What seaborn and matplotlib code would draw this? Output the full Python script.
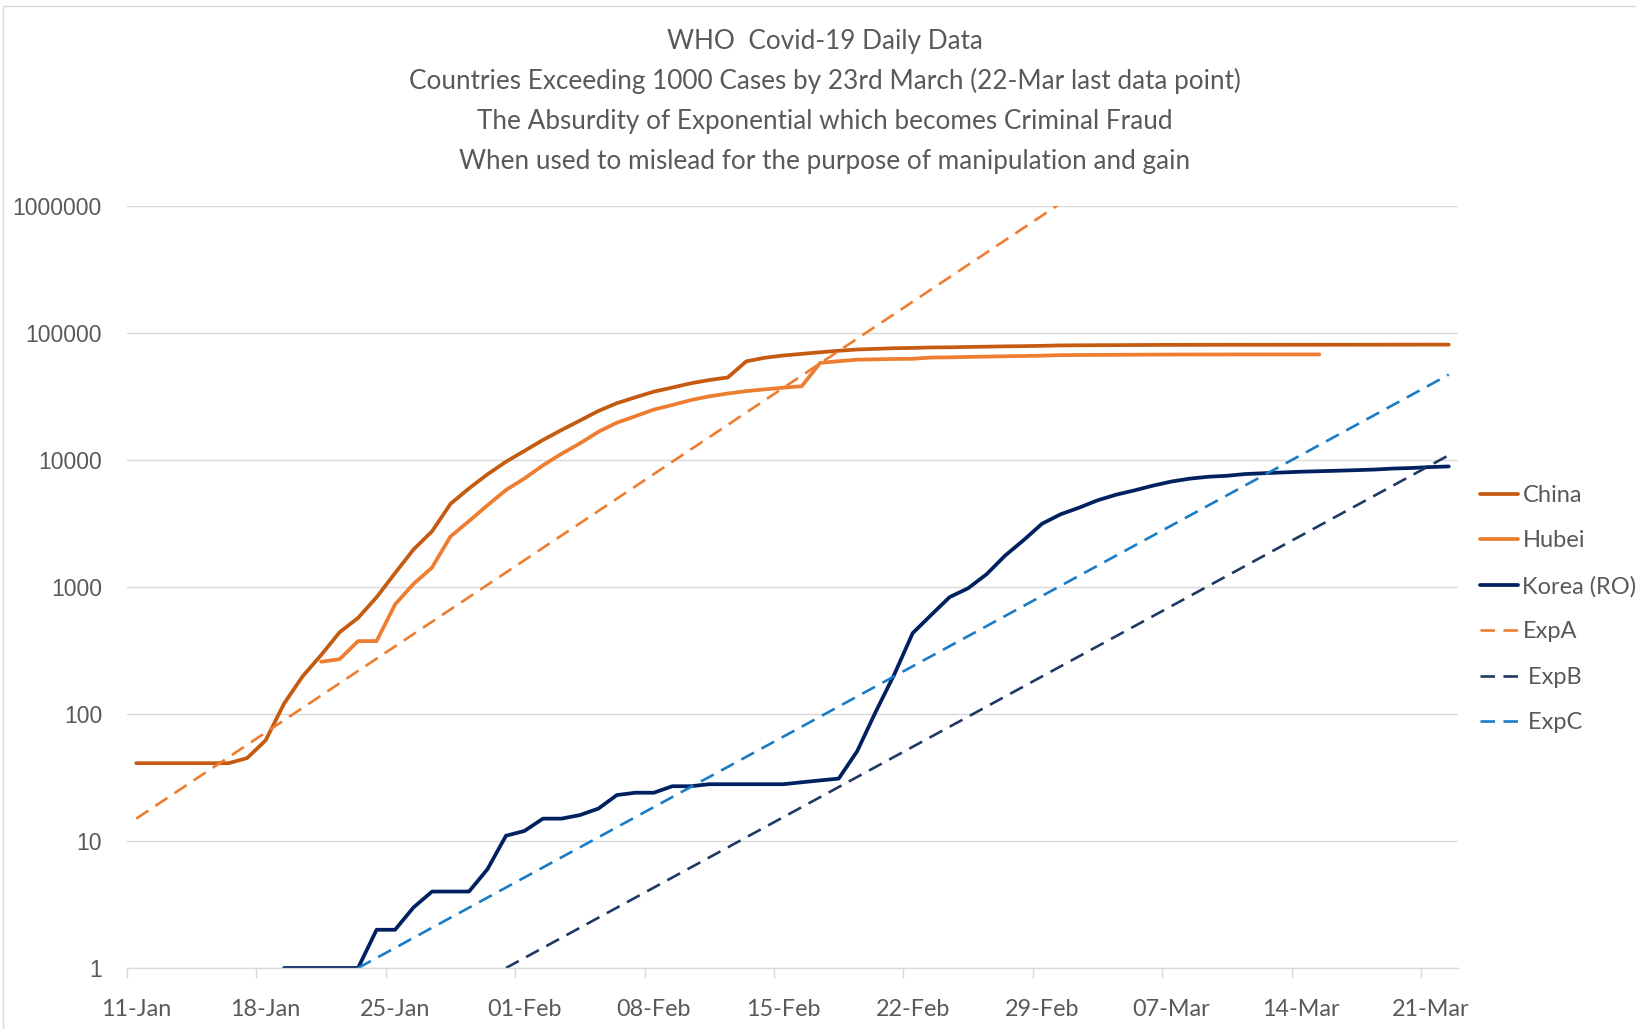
import pandas as pd
import matplotlib
matplotlib.use('Agg')
import matplotlib.pyplot as plt
from matplotlib.lines import Line2D
import seaborn as sns

# daily data, 11-Jan .. 22-Mar
china_start = '2020-01-11'
china = [41, 41, 41, 41, 41, 41, 45, 62, 121, 198, 291, 440, 571, 830, 1287, 1975, 2744, 4515, 5974, 7711, 9692,
         11791, 14380, 17205, 20438, 24324, 28018, 31161, 34546, 37198, 40171, 42638, 44653, 59804, 63851, 66492,
         68500, 70548, 72436, 74185, 75002, 75891, 76288, 76936, 77150, 77658, 78064, 78497, 78824, 79251,
         79824, 80026, 80151, 80270, 80409, 80552, 80651, 80695, 80735, 80754, 80778, 80793, 80813, 80824, 80844,
         80860, 80881, 80894, 80928, 80967, 81008, 81054]

hubei_start = '2020-01-21'
hubei = [258, 270, 375, 375, 729, 1058, 1423, 2500, 3300, 4400, 5806,
         7153, 9074, 11177, 13522, 16678, 19665, 22112, 24953, 27100, 29631, 31728, 33366, 34874, 35991, 37111,
         38107, 58182, 59989, 61682, 62031, 62457, 62662, 64084, 64287, 64786, 65187, 65596, 65914, 66337,
         66907, 67103, 67217, 67332, 67466, 67592, 67666, 67707, 67743, 67760, 67773, 67781, 67786, 67790, 67794]

korea_start = '2020-01-19'
korea = [1, 1, 1, 1, 1, 2, 2, 3, 4, 4, 4, 6, 11,
         12, 15, 15, 16, 18, 23, 24, 24, 27, 27, 28, 28, 28, 28, 28, 29, 30, 31, 51, 104, 204, 433, 602, 833,
         977, 1261, 1766, 2337, 3150,
         3736, 4212, 4812, 5328, 5766, 6284, 6767, 7134, 7382, 7513, 7755, 7869, 7979, 8086, 8162, 8236, 8320,
         8413, 8565, 8652, 8799, 8897]

# exponential guide lines (start / end points)
expA_dates = ['2020-01-11', '2020-03-01']
expA = [15, 1050000]
expB_dates = ['2020-01-31', '2020-03-22']
expB = [1, 10900]
expC_dates = ['2020-01-23', '2020-03-22']
expC = [1, 47000]

title_lines = ['WHO  Covid-19 Daily Data',
               'Countries Exceeding 1000 Cases by 23rd March (22-Mar last data point)',
               'The Absurdity of Exponential which becomes Criminal Fraud',
               'When used to mislead for the purpose of manipulation and gain']

y_ticks = [1, 10, 100, 1000, 10000, 100000, 1000000]


def series(start, vals):
    return pd.DataFrame({'date': pd.date_range(start, periods=len(vals), freq='D'), 'cases': vals})


sns.set_theme(style='white')
plt.rcParams['font.family'] = ['Lato', 'DejaVu Sans']

W, H = 1636, 1029
fig = plt.figure(figsize=(W / 100, H / 100), dpi=100)
ax = fig.add_axes([127 / W, (H - 968) / H, (1458 - 127) / W, (968 - 206) / H])

c_china = '#C55A11'
c_hubei = '#ED7D31'
c_korea = '#002060'
c_expb = '#203864'
c_expc = '#1B7CC6'

sns.lineplot(data=series(china_start, china), x='date', y='cases', ax=ax, color=c_china, lw=2.7, label='China')
sns.lineplot(data=series(hubei_start, hubei), x='date', y='cases', ax=ax, color=c_hubei, lw=2.7, label='Hubei')
sns.lineplot(data=series(korea_start, korea), x='date', y='cases', ax=ax, color=c_korea, lw=2.7, label='Korea (RO)')
dash = (0, (5.5, 3.2))
for d, v, col, lab in [(expA_dates, expA, c_hubei, 'ExpA'), (expB_dates, expB, c_expb, ' ExpB'),
                       (expC_dates, expC, c_expc, ' ExpC')]:
    df = pd.DataFrame({'date': pd.to_datetime(d), 'cases': v})
    sns.lineplot(data=df, x='date', y='cases', ax=ax, color=col, lw=1.9, linestyle=dash, label=lab)

ax.set_yscale('log')
ax.set_ylim(1, 1000000)
ax.set_yticks(y_ticks)
ax.set_yticklabels([str(t) for t in y_ticks], family='Liberation Sans', fontsize=16.5, color='#595959')
ax.minorticks_off()
ax.tick_params(axis='y', length=0, pad=18)
ax.yaxis.grid(True, color='#D9D9D9', lw=1)

half = pd.Timedelta(hours=12)
ax.set_xlim(pd.Timestamp('2020-01-11') - half, pd.Timestamp('2020-03-22') + half)
major = pd.date_range('2020-01-11', '2020-03-21', freq='7D')
ax.set_xticks(major)
ax.set_xticklabels([m.strftime('%d-%b') for m in major], fontsize=16.8, color='#595959')
ax.set_xticks(major - half, minor=True)
ax.tick_params(axis='x', which='major', length=0, pad=22)
ax.tick_params(axis='x', which='minor', length=7, width=1, color='#D9D9D9', bottom=True)
ax.set_xlabel('')
ax.set_ylabel('')

for s in ['top', 'right', 'left']:
    ax.spines[s].set_visible(False)
ax.spines['bottom'].set_color('#D9D9D9')
ax.spines['bottom'].set_linewidth(1)

for i, line in enumerate(title_lines):
    fig.text(825 / W, 1 - (41 + 40 * i) / H, line, ha='center', va='center', fontsize=18.8, color='#595959')

leg = ax.legend(loc='upper left', bbox_to_anchor=(1480 / W, 1 - 485 / H), bbox_transform=fig.transFigure,
                frameon=False, fontsize=17, handlelength=1.6, handletextpad=0.2, labelspacing=1.03,
                borderpad=0, borderaxespad=0)
for t in leg.get_texts():
    t.set_color('#595959')

# faint chart-area border (top and left)
fig.add_artist(Line2D([3 / W, 3 / W], [0, 1 - 6 / H], color='#D9D9D9', lw=1))
fig.add_artist(Line2D([3 / W, 1], [1 - 6 / H, 1 - 6 / H], color='#D9D9D9', lw=1))

fig.savefig('out.png', dpi=100, facecolor='white')
